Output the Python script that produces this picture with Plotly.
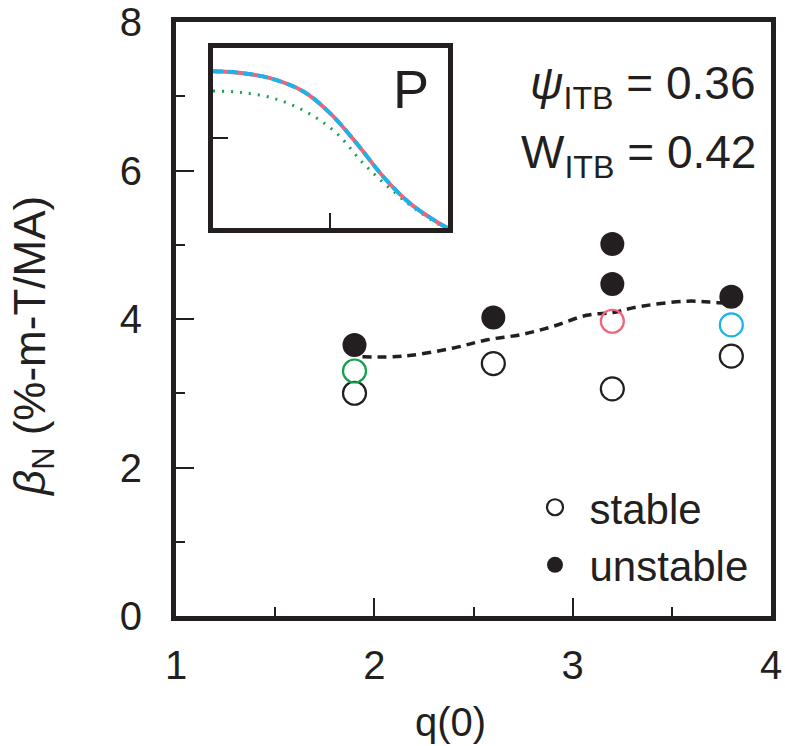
import plotly.graph_objects as go

# q(0) scan: normalized beta limits
q_stable = [1.9, 2.6, 3.2, 3.8]
beta_stable = [3.00, 3.40, 3.06, 3.50]

q_unstable = [1.9, 2.6, 3.2, 3.2, 3.8]
beta_unstable = [3.65, 4.02, 5.01, 4.47, 4.30]

# highlighted marginal cases (colour-coded with the inset profiles)
q_green, beta_green = [1.9], [3.30]
q_red, beta_red = [3.2], [3.97]
q_blue, beta_blue = [3.8], [3.92]

# stability boundary
q_bound = [1.94, 2.15, 2.40, 2.57, 2.74, 2.90, 3.07, 3.21, 3.32, 3.58, 3.73, 3.80]
beta_bound = [3.49, 3.50, 3.61, 3.72, 3.79, 3.90, 4.05, 4.09, 4.16, 4.24, 4.22, 4.21]

# inset: pressure profiles vs normalized flux
psi_p = [0.0, 0.12, 0.243, 0.385, 0.498, 0.611, 0.724, 0.837, 0.950, 1.0]
p_main = [0.872, 0.862, 0.833, 0.759, 0.639, 0.472, 0.287, 0.139, 0.037, 0.0]
psi_g = [0.0, 0.12, 0.269, 0.406, 0.526, 0.639, 0.752, 0.866, 0.979, 1.0]
p_green = [0.762, 0.754, 0.717, 0.639, 0.528, 0.361, 0.222, 0.102, 0.009, 0.0]

INK = "#231f20"
GREEN = "#14a14a"
RED = "#ef6478"
BLUE = "#1cb2ea"
FONT = "Liberation Sans"

fig = go.Figure()

fig.add_trace(go.Scatter(
    x=q_bound, y=beta_bound, mode="lines", line_shape="spline",
    line=dict(color=INK, width=3.5, dash="9px,6px"), showlegend=False))

fig.add_trace(go.Scatter(
    x=q_stable, y=beta_stable, mode="markers", name="stable",
    marker=dict(symbol="circle-open", size=23, color=INK, line=dict(width=2.2, color=INK))))
fig.add_trace(go.Scatter(
    x=q_unstable, y=beta_unstable, mode="markers", name="unstable",
    marker=dict(symbol="circle", size=24, color=INK)))
for qx, by, col in [(q_green, beta_green, GREEN), (q_red, beta_red, RED), (q_blue, beta_blue, BLUE)]:
    fig.add_trace(go.Scatter(
        x=qx, y=by, mode="markers", showlegend=False,
        marker=dict(symbol="circle-open", size=23, color=col, line=dict(width=2.2, color=col))))

# inset profiles
fig.add_trace(go.Scatter(
    x=psi_g, y=p_green, xaxis="x2", yaxis="y2", mode="lines", line_shape="spline",
    line=dict(color=GREEN, width=3, dash="2px,7px"), showlegend=False, cliponaxis=False))
fig.add_trace(go.Scatter(
    x=psi_p, y=p_main, xaxis="x2", yaxis="y2", mode="lines", line_shape="spline",
    line=dict(color=RED, width=4), showlegend=False, cliponaxis=False))
fig.add_trace(go.Scatter(
    x=psi_p, y=p_main, xaxis="x2", yaxis="y2", mode="lines", line_shape="spline",
    line=dict(color=BLUE, width=4, dash="10px,5px"), showlegend=False, cliponaxis=False))

axis_common = dict(
    showgrid=False, zeroline=False, showline=True, linewidth=5, linecolor=INK,
    mirror=True, ticks="inside", tickwidth=2, tickcolor=INK, ticklen=18,
    tickfont=dict(family=FONT, size=40, color=INK), automargin=False,
)
inset_common = dict(
    range=[0, 1], tickvals=[0.5], showticklabels=False, showgrid=False,
    zeroline=False, showline=True, linewidth=5, linecolor=INK, mirror=True,
    ticks="inside", ticklen=15, tickwidth=2, tickcolor=INK,
)

fig.update_layout(
    width=785, height=746,
    margin=dict(l=176, r=14, t=22, b=130),
    paper_bgcolor="white", plot_bgcolor="white",
    font=dict(family=FONT, color=INK),
    xaxis=dict(
        range=[1, 4], tickvals=[1, 2, 3, 4], ticklabelstandoff=10,
        minor=dict(dtick=0.5, ticklen=9, ticks="inside", tickwidth=2, tickcolor=INK),
        **axis_common),
    yaxis=dict(
        range=[0, 8], tickvals=[0, 2, 4, 6, 8], ticklabelstandoff=21,
        minor=dict(dtick=1, ticklen=9, ticks="inside", tickwidth=2, tickcolor=INK),
        **axis_common),
    xaxis2=dict(domain=[0.0622, 0.457], anchor="y2", **inset_common),
    yaxis2=dict(domain=[0.653, 0.956], anchor="x2", **inset_common),
    legend=dict(
        x=0.579, y=0.240, xanchor="left", yanchor="top", bgcolor="rgba(0,0,0,0)",
        font=dict(family=FONT, size=42, color=INK), itemsizing="trace",
        itemwidth=59, tracegroupgap=0),
    showlegend=True,
)

# axis titles
fig.add_annotation(
    text="q(0)", xref="paper", yref="paper", x=0.462, y=-0.178,
    xanchor="center", yanchor="middle", showarrow=False,
    font=dict(family=FONT, size=40, color=INK))
fig.add_annotation(
    text="<i>β</i><sub>N</sub> (%-m-T/MA)", xref="paper", yref="paper", x=-0.2403, y=0.453,
    xanchor="center", yanchor="middle", showarrow=False, textangle=-90,
    font=dict(family=FONT, size=44, color=INK))

# inset label and ITB parameters
fig.add_annotation(
    text="P", xref="x2 domain", yref="y2 domain", x=0.93, y=0.95,
    xanchor="right", yanchor="top", showarrow=False,
    font=dict(family=FONT, size=54, color=INK))
fig.add_annotation(
    text="<i>ψ</i><sub>ITB</sub> = 0.36", xref="paper", yref="paper", x=0.978, y=0.891,
    xanchor="right", yanchor="middle", showarrow=False,
    font=dict(family=FONT, size=46, color=INK))
fig.add_annotation(
    text="W<sub>ITB</sub> = 0.42", xref="paper", yref="paper", x=0.978, y=0.776,
    xanchor="right", yanchor="middle", showarrow=False,
    font=dict(family=FONT, size=46, color=INK))

fig.write_html("out.html")
